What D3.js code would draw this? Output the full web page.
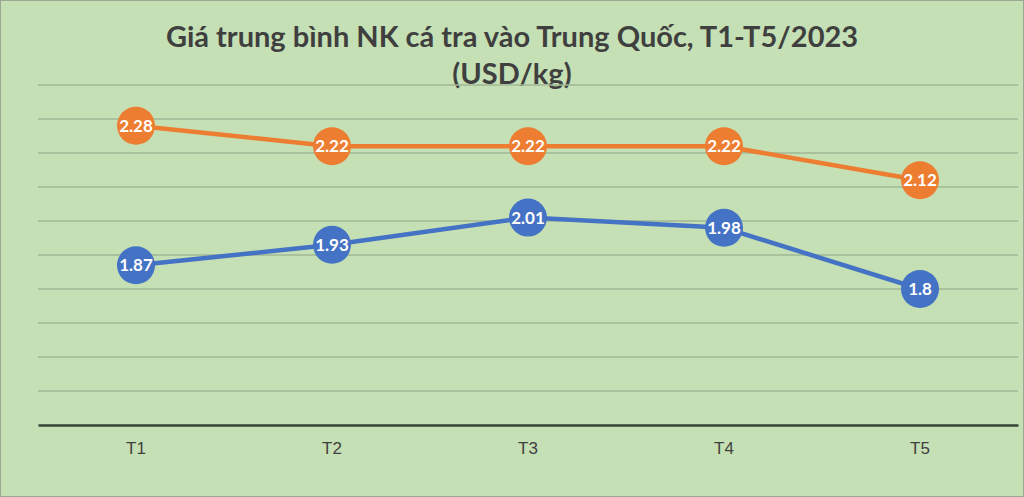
<!DOCTYPE html>
<html>
<head>
<meta charset="utf-8">
<script src="https://cdn.jsdelivr.net/npm/d3@7"></script>
<style>
  body { margin: 0; background: #c5e0b4; }
  svg { display: block; }
</style>
</head>
<body>
<script>
// data
var months = ["T1", "T2", "T3", "T4", "T5"];
var seriesTop = [2.28, 2.22, 2.22, 2.22, 2.12];
var seriesBottom = [1.87, 1.93, 2.01, 1.98, 1.8];
var gridValues = [1.5, 1.6, 1.7, 1.8, 1.9, 2.0, 2.1, 2.2, 2.3, 2.4];

var w = 1024;
var h = 497;

var svg = d3.select("body")
      .append("svg")
      .attr("width", w)
      .attr("height", h);

// background + thin frame
svg.append("rect")
      .attr("x", 0.5).attr("y", 0.5)
      .attr("width", w - 1).attr("height", h - 1)
      .attr("fill", "#c5e0b4")
      .attr("stroke", "#9aa894");

// title
var title = svg.append("text")
      .attr("text-anchor", "middle")
      .attr("font-family", "Lato, 'Open Sans', sans-serif")
      .attr("font-weight", "bold")
      .attr("font-size", "29px")
      .attr("fill", "#3f3f3f");
title.append("tspan").attr("x", 512).attr("y", 47).text("Giá trung bình NK cá tra vào Trung Quốc, T1-T5/2023");
title.append("tspan").attr("x", 512).attr("y", 84).text("(USD/kg)");

// scales
var xScale = d3.scaleBand()
      .domain(months)
      .range([38, 1018]);

var yScale = d3.scaleLinear()
      .domain([1.4, 2.4])
      .range([425, 85]);

// gridlines
svg.selectAll("line.grid")
      .data(gridValues)
      .enter()
      .append("line")
      .attr("class", "grid")
      .attr("x1", 38)
      .attr("x2", 1018)
      .attr("y1", function(d) { return yScale(d); })
      .attr("y2", function(d) { return yScale(d); })
      .attr("stroke", "#9fb795")
      .attr("stroke-width", 1.5);

// x axis
var xAxis = d3.axisBottom(xScale).tickSize(0).tickPadding(17);
var gx = svg.append("g")
      .attr("transform", "translate(0," + yScale(1.4) + ")")
      .call(xAxis);
gx.select(".domain")
      .attr("stroke", "#344534")
      .attr("stroke-width", 2.5);
gx.selectAll("text")
      .attr("font-family", "'Liberation Sans', Arial, sans-serif")
      .attr("font-size", "17px")
      .attr("fill", "#404040");

var line = d3.line()
      .x(function(d, i) { return xScale(months[i]) + xScale.bandwidth() / 2; })
      .y(function(d) { return yScale(d); });

function drawSeries(values, color) {
  svg.append("path")
        .datum(values)
        .attr("d", line)
        .attr("fill", "none")
        .attr("stroke", color)
        .attr("stroke-width", 4.5);

  var pts = svg.append("g").selectAll("g")
        .data(values)
        .enter()
        .append("g")
        .attr("transform", function(d, i) {
          return "translate(" + (xScale(months[i]) + xScale.bandwidth() / 2) + "," + yScale(d) + ")";
        });
  pts.append("circle")
        .attr("r", 19)
        .attr("fill", color);
  pts.append("text")
        .attr("text-anchor", "middle")
        .attr("dy", "0.36em")
        .attr("font-family", "Lato, 'Open Sans', sans-serif")
        .attr("font-weight", "bold")
        .attr("font-size", "17px")
        .attr("fill", "#ffffff")
        .text(function(d) { return d; });
}

drawSeries(seriesTop, "#ed7d31");
drawSeries(seriesBottom, "#4472c4");
</script>
</body>
</html>
